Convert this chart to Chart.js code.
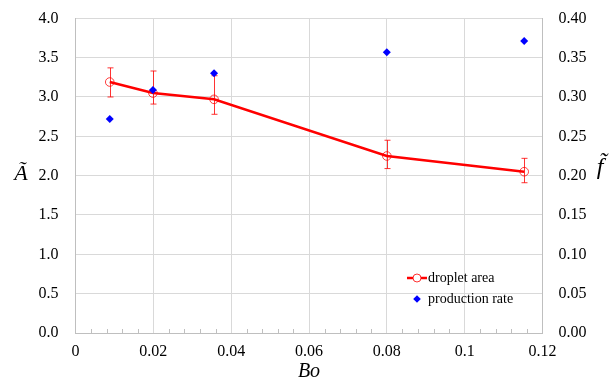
<!DOCTYPE html>
<html>
<head>
<meta charset="utf-8">
<script src="https://cdn.jsdelivr.net/npm/chart.js@4/dist/chart.umd.min.js"></script>
<style>
html,body{margin:0;padding:0;background:#fff;}
#wrap{width:611px;height:385px;position:relative;}
</style>
</head>
<body>
<div id="wrap"><canvas id="c" width="611" height="385"></canvas></div>
<script>
// ---- data ----
const boValues = [0.0088, 0.0199, 0.0356, 0.0800, 0.1153];
const dropletArea = [3.19, 3.05, 2.97, 2.25, 2.05];
const areaErrPlus = [0.18, 0.28, 0.30, 0.20, 0.17];
const areaErrMinus = [0.19, 0.14, 0.19, 0.16, 0.14];
const productionRate = [0.272, 0.309, 0.330, 0.357, 0.371];
const xTickLabels = ['0', '0.02', '0.04', '0.06', '0.08', '0.1', '0.12'];
const leftTickLabels = ['0.0','0.5','1.0','1.5','2.0','2.5','3.0','3.5','4.0'];
const rightTickLabels = ['0.00','0.05','0.10','0.15','0.20','0.25','0.30','0.35','0.40'];
const seriesNames = ['droplet area', 'production rate'];

const FONT = '"Liberation Serif", "Times New Roman", serif';
const RED = '#ff0000';
const BLUE = '#0000ff';
const AXIS = '#bfbfbf';
const GRID = '#d9d9d9';

const areaPoints = boValues.map((x, i) => ({x: x, y: dropletArea[i]}));
const ratePoints = boValues.map((x, i) => ({x: x, y: productionRate[i]}));

const errorBarPlugin = {
  id: 'errorBars',
  beforeDatasetsDraw(chart) {
    const ctx = chart.ctx, xs = chart.scales.x, ys = chart.scales.y;
    ctx.save();
    ctx.strokeStyle = 'rgba(255,0,0,0.8)';
    ctx.lineWidth = 1;
    boValues.forEach((bx, i) => {
      const px = Math.round(xs.getPixelForValue(bx)) + 0.5;
      const top = ys.getPixelForValue(dropletArea[i] + areaErrPlus[i]);
      const bot = ys.getPixelForValue(dropletArea[i] - areaErrMinus[i]);
      ctx.beginPath();
      ctx.moveTo(px, top); ctx.lineTo(px, bot);
      ctx.moveTo(px - 3, top); ctx.lineTo(px + 3, top);
      ctx.moveTo(px - 3, bot); ctx.lineTo(px + 3, bot);
      ctx.stroke();
    });
    ctx.restore();
  }
};

const decorPlugin = {
  id: 'decor',
  afterDraw(chart) {
    const ctx = chart.ctx, xs = chart.scales.x, ca = chart.chartArea;
    ctx.save();
    // minor ticks on x axis
    ctx.strokeStyle = AXIS;
    ctx.lineWidth = 1;
    for (let k = 1; k < 30; k++) {
      if (k % 5 === 0) continue;
      const px = Math.round(xs.getPixelForValue(k * 0.004)) + 0.5;
      ctx.beginPath();
      ctx.moveTo(px, ca.bottom); ctx.lineTo(px, ca.bottom - 4);
      ctx.stroke();
    }
    // axis titles
    ctx.fillStyle = '#000';
    ctx.textAlign = 'center';
    ctx.textBaseline = 'middle';
    ctx.font = 'italic 22px ' + FONT;
    ctx.fillText('\u00C3', 21, 174);
    ctx.font = 'italic 24px ' + FONT;
    ctx.fillText('f\u0303', 600, 168);
    ctx.font = 'italic 20px ' + FONT;
    ctx.fillText('Bo', (ca.left + ca.right) / 2, 372);
    // legend
    const lx = 417, ly1 = 278, ly2 = 299;
    ctx.strokeStyle = RED;
    ctx.lineWidth = 2.5;
    ctx.beginPath(); ctx.moveTo(lx - 10, ly1); ctx.lineTo(lx + 10, ly1); ctx.stroke();
    ctx.lineWidth = 1;
    ctx.strokeStyle = 'rgba(255,0,0,0.8)';
    ctx.fillStyle = '#fff';
    ctx.beginPath(); ctx.arc(lx, ly1, 4, 0, Math.PI * 2); ctx.fill(); ctx.stroke();
    ctx.fillStyle = BLUE;
    ctx.beginPath();
    ctx.moveTo(lx, ly2 - 3.8); ctx.lineTo(lx + 3.8, ly2); ctx.lineTo(lx, ly2 + 3.8); ctx.lineTo(lx - 3.8, ly2);
    ctx.closePath(); ctx.fill();
    ctx.fillStyle = '#000';
    ctx.textAlign = 'left';
    ctx.font = '14px ' + FONT;
    ctx.fillText(seriesNames[0], 428, ly1);
    ctx.fillText(seriesNames[1], 428, ly2);
    ctx.restore();
  }
};

function fitY(width) {
  return function (s) { s.width = width; s.paddingTop = 0; s.paddingBottom = 0; };
}

new Chart(document.getElementById('c'), {
  type: 'scatter',
  data: {
    datasets: [
      {
        label: seriesNames[1],
        data: ratePoints,
        yAxisID: 'y1',
        showLine: false,
        pointStyle: 'rectRot',
        pointRadius: 4,
        backgroundColor: BLUE,
        borderColor: BLUE,
        borderWidth: 0,
        order: 0
      },
      {
        label: seriesNames[0],
        data: areaPoints,
        yAxisID: 'y',
        showLine: true,
        borderColor: RED,
        borderWidth: 2.5,
        pointStyle: 'circle',
        pointRadius: 4.3,
        pointBorderWidth: 1,
        pointBorderColor: 'rgba(255,0,0,0.75)',
        pointBackgroundColor: 'rgba(255,255,255,0)',
        order: 1
      }
    ]
  },
  options: {
    responsive: false,
    animation: false,
    events: [],
    layout: {padding: {top: 18.3, left: 0, right: 0, bottom: 0}},
    plugins: {legend: {display: false}, tooltip: {enabled: false}},
    scales: {
      x: {
        type: 'linear', min: 0, max: 0.12,
        afterBuildTicks(s) { s.ticks = xTickLabels.map((t, i) => ({value: i * 0.02})); },
        afterFit(s) { s.height = 52; s.paddingLeft = 0; s.paddingRight = 0; },
        grid: {color: GRID, drawTicks: false},
        border: {color: AXIS},
        ticks: {
          padding: 9, color: '#000', font: {family: FONT, size: 16},
          maxRotation: 0, autoSkip: false,
          callback: (v, i) => xTickLabels[i]
        }
      },
      y: {
        type: 'linear', position: 'left', min: 0, max: 4,
        afterBuildTicks(s) { s.ticks = leftTickLabels.map((t, i) => ({value: i * 0.5})); },
        afterFit: fitY(75.5),
        grid: {color: GRID, drawTicks: false},
        border: {color: AXIS},
        ticks: {
          padding: 17, color: '#000', font: {family: FONT, size: 16},
          callback: (v, i) => leftTickLabels[i]
        }
      },
      y1: {
        type: 'linear', position: 'right', min: 0, max: 0.4,
        afterBuildTicks(s) { s.ticks = rightTickLabels.map((t, i) => ({value: i * 0.05})); },
        afterFit: fitY(68.5),
        grid: {display: false, drawTicks: false},
        border: {color: AXIS},
        ticks: {
          padding: 16, color: '#000', font: {family: FONT, size: 16},
          callback: (v, i) => rightTickLabels[i]
        }
      }
    }
  },
  plugins: [errorBarPlugin, decorPlugin]
});
</script>
</body>
</html>
